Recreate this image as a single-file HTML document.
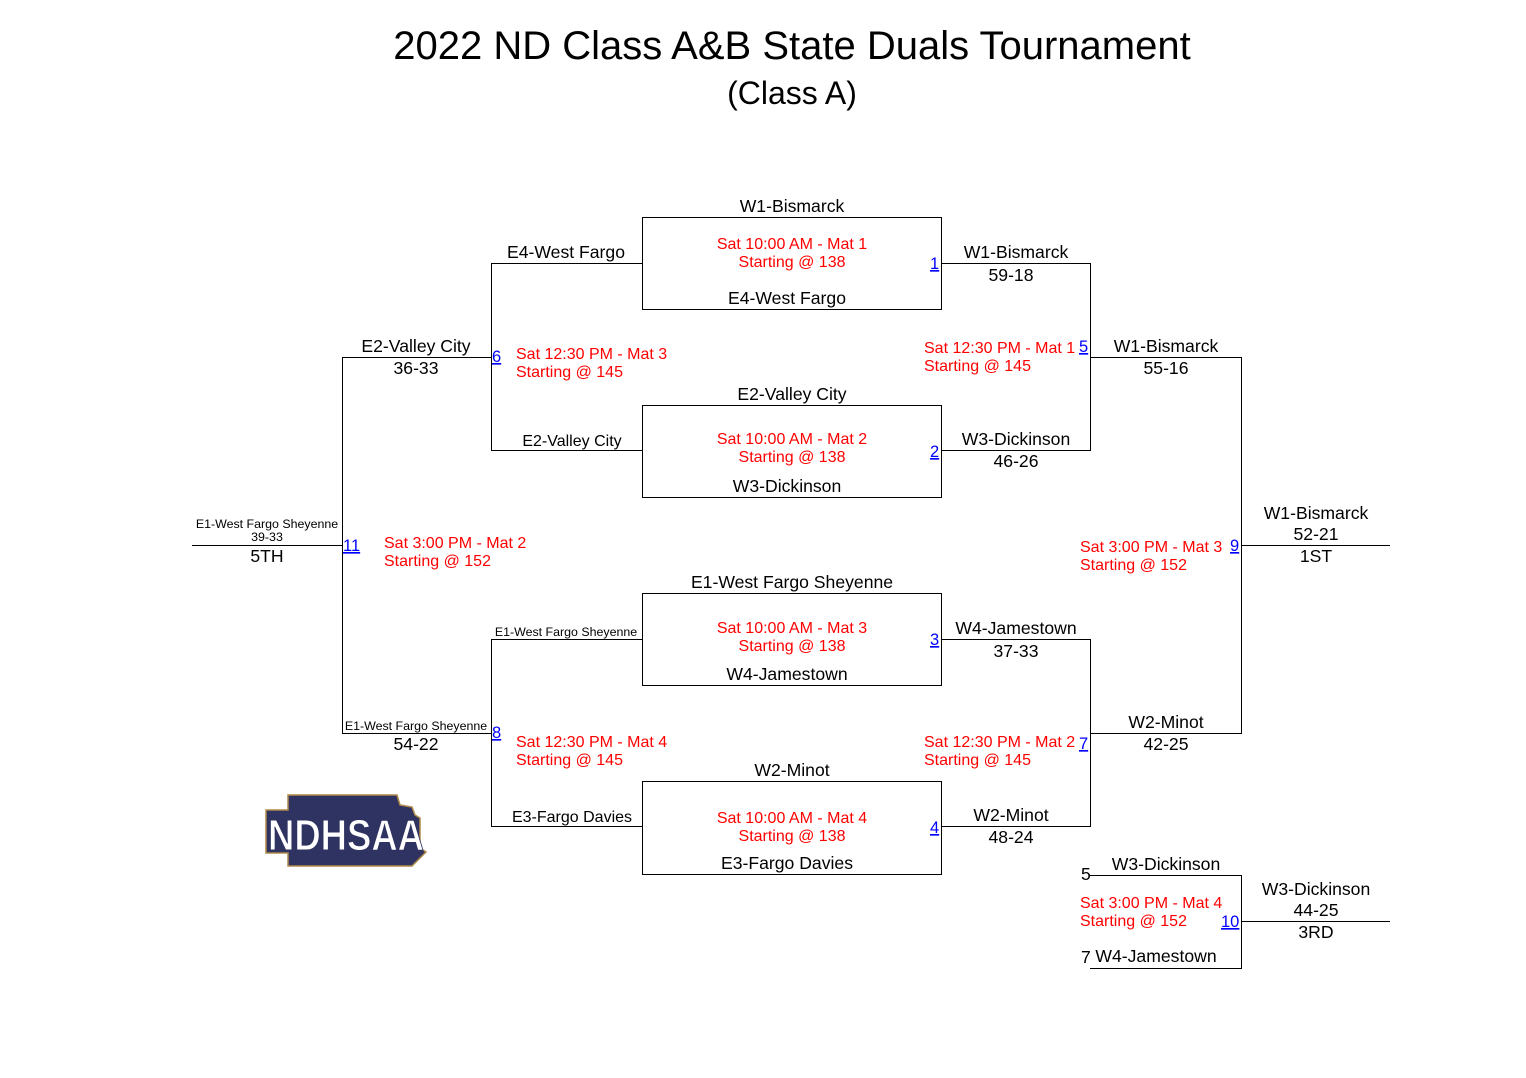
<!DOCTYPE html>
<html><head><meta charset="utf-8"><style>
html,body{margin:0;padding:0;background:#fff;}
svg{display:block;font-family:"Liberation Sans",Arial,sans-serif;}
.b{fill:#000;font-size:17.6px;}
.m{fill:#000;font-size:16px;}
.r{fill:#f00;font-size:16px;}
.s{fill:#000;font-size:12.4px;}
.l{fill:#00f;font-size:16.5px;text-decoration:underline;}
line,rect{stroke:#000;stroke-width:1;fill:none;}
</style></head><body>
<svg width="1526" height="1078" viewBox="0 0 1526 1078">
<text x="792" y="59" text-anchor="middle" style="font-size:40px">2022 ND Class A&amp;B State Duals Tournament</text>
<text x="792" y="104" text-anchor="middle" style="font-size:32px">(Class A)</text>

<rect x="642.5" y="217.5" width="299" height="92"/>
<rect x="642.5" y="405.5" width="299" height="92"/>
<rect x="642.5" y="593.5" width="299" height="92"/>
<rect x="642.5" y="781.5" width="299" height="93"/>

<line x1="491.5" y1="263.5" x2="642" y2="263.5"/><line x1="491.5" y1="450.5" x2="642" y2="450.5"/><line x1="491.5" y1="263" x2="491.5" y2="451"/>
<line x1="491.5" y1="639.5" x2="642" y2="639.5"/><line x1="491.5" y1="826.5" x2="642" y2="826.5"/><line x1="491.5" y1="639" x2="491.5" y2="827"/>
<line x1="342.5" y1="357.5" x2="491" y2="357.5"/><line x1="342.5" y1="733.5" x2="491" y2="733.5"/><line x1="342.5" y1="357" x2="342.5" y2="734"/>
<line x1="192" y1="545.5" x2="342" y2="545.5"/>

<line x1="941" y1="263.5" x2="1090.5" y2="263.5"/><line x1="941" y1="450.5" x2="1090.5" y2="450.5"/><line x1="1090.5" y1="263" x2="1090.5" y2="451"/>
<line x1="941" y1="639.5" x2="1090.5" y2="639.5"/><line x1="941" y1="826.5" x2="1090.5" y2="826.5"/><line x1="1090.5" y1="639" x2="1090.5" y2="827"/>
<line x1="1090" y1="357.5" x2="1241.5" y2="357.5"/><line x1="1090" y1="733.5" x2="1241.5" y2="733.5"/><line x1="1241.5" y1="357" x2="1241.5" y2="734"/>
<line x1="1241" y1="545.5" x2="1390" y2="545.5"/>
<line x1="1090" y1="875.5" x2="1241.5" y2="875.5"/><line x1="1090" y1="968.5" x2="1241.5" y2="968.5"/><line x1="1241.5" y1="875" x2="1241.5" y2="969"/>
<line x1="1241" y1="921.5" x2="1390" y2="921.5"/>

<text class="b" x="792" y="212" text-anchor="middle">W1-Bismarck</text>
<text class="r" x="792" y="249" text-anchor="middle">Sat 10:00 AM - Mat 1</text>
<text class="r" x="792" y="267" text-anchor="middle">Starting @ 138</text>
<text class="b" x="787" y="304" text-anchor="middle">E4-West Fargo</text>

<text class="b" x="792" y="400" text-anchor="middle">E2-Valley City</text>
<text class="r" x="792" y="444" text-anchor="middle">Sat 10:00 AM - Mat 2</text>
<text class="r" x="792" y="462" text-anchor="middle">Starting @ 138</text>
<text class="b" x="787" y="492" text-anchor="middle">W3-Dickinson</text>

<text class="b" x="792" y="588" text-anchor="middle">E1-West Fargo Sheyenne</text>
<text class="r" x="792" y="633" text-anchor="middle">Sat 10:00 AM - Mat 3</text>
<text class="r" x="792" y="651" text-anchor="middle">Starting @ 138</text>
<text class="b" x="787" y="680" text-anchor="middle">W4-Jamestown</text>

<text class="b" x="792" y="776" text-anchor="middle">W2-Minot</text>
<text class="r" x="792" y="823" text-anchor="middle">Sat 10:00 AM - Mat 4</text>
<text class="r" x="792" y="841" text-anchor="middle">Starting @ 138</text>
<text class="b" x="787" y="869" text-anchor="middle">E3-Fargo Davies</text>

<text class="l" x="930" y="269">1</text>
<text class="l" x="930" y="457">2</text>
<text class="l" x="930" y="645">3</text>
<text class="l" x="930" y="833">4</text>
<text class="l" x="1079" y="352">5</text>
<text class="l" x="492" y="362">6</text>
<text class="l" x="1079" y="749">7</text>
<text class="l" x="492" y="738">8</text>
<text class="l" x="1230" y="551">9</text>
<text class="l" x="1221" y="927">10</text>
<text class="l" x="343" y="551">11</text>

<text class="b" x="566" y="258" text-anchor="middle">E4-West Fargo</text>
<text class="m" x="572" y="446" text-anchor="middle">E2-Valley City</text>
<text class="r" x="516" y="359">Sat 12:30 PM - Mat 3</text>
<text class="r" x="516" y="377">Starting @ 145</text>
<text class="s" x="566" y="636" text-anchor="middle">E1-West Fargo Sheyenne</text>
<text class="m" x="572" y="822" text-anchor="middle">E3-Fargo Davies</text>
<text class="r" x="516" y="747">Sat 12:30 PM - Mat 4</text>
<text class="r" x="516" y="765">Starting @ 145</text>
<text class="b" x="416" y="352" text-anchor="middle">E2-Valley City</text>
<text class="b" x="416" y="374" text-anchor="middle">36-33</text>
<text class="s" x="416" y="730" text-anchor="middle">E1-West Fargo Sheyenne</text>
<text class="b" x="416" y="750" text-anchor="middle">54-22</text>
<text class="r" x="384" y="548">Sat 3:00 PM - Mat 2</text>
<text class="r" x="384" y="566">Starting @ 152</text>
<text class="s" x="267" y="528" text-anchor="middle">E1-West Fargo Sheyenne</text>
<text class="s" x="267" y="541" text-anchor="middle">39-33</text>
<text class="b" x="267" y="562" text-anchor="middle">5TH</text>

<text class="b" x="1016" y="258" text-anchor="middle">W1-Bismarck</text>
<text class="b" x="1011" y="281" text-anchor="middle">59-18</text>
<text class="b" x="1016" y="445" text-anchor="middle">W3-Dickinson</text>
<text class="b" x="1016" y="467" text-anchor="middle">46-26</text>
<text class="r" x="924" y="353">Sat 12:30 PM - Mat 1</text>
<text class="r" x="924" y="371">Starting @ 145</text>
<text class="b" x="1016" y="634" text-anchor="middle">W4-Jamestown</text>
<text class="b" x="1016" y="657" text-anchor="middle">37-33</text>
<text class="b" x="1011" y="821" text-anchor="middle">W2-Minot</text>
<text class="b" x="1011" y="843" text-anchor="middle">48-24</text>
<text class="r" x="924" y="747">Sat 12:30 PM - Mat 2</text>
<text class="r" x="924" y="765">Starting @ 145</text>
<text class="b" x="1166" y="352" text-anchor="middle">W1-Bismarck</text>
<text class="b" x="1166" y="374" text-anchor="middle">55-16</text>
<text class="b" x="1166" y="728" text-anchor="middle">W2-Minot</text>
<text class="b" x="1166" y="750" text-anchor="middle">42-25</text>
<text class="r" x="1080" y="552">Sat 3:00 PM - Mat 3</text>
<text class="r" x="1080" y="570">Starting @ 152</text>
<text class="b" x="1316" y="519" text-anchor="middle">W1-Bismarck</text>
<text class="b" x="1316" y="540" text-anchor="middle">52-21</text>
<text class="b" x="1316" y="562" text-anchor="middle">1ST</text>
<text class="b" x="1081" y="880">5</text>
<text class="b" x="1166" y="870" text-anchor="middle">W3-Dickinson</text>
<text class="b" x="1081" y="963">7</text>
<text class="b" x="1156" y="962" text-anchor="middle">W4-Jamestown</text>
<text class="r" x="1080" y="908">Sat 3:00 PM - Mat 4</text>
<text class="r" x="1080" y="926">Starting @ 152</text>
<text class="b" x="1316" y="895" text-anchor="middle">W3-Dickinson</text>
<text class="b" x="1316" y="916" text-anchor="middle">44-25</text>
<text class="b" x="1316" y="938" text-anchor="middle">3RD</text>

<polygon points="288,795 397,795 400,805 412,807 415,815 420,818 420,848 426,852 412,866 288,866 288,853 266,853 266,810 288,810" fill="#2f3361" stroke="#b08a4a" stroke-width="1.5"/>
<text x="346" y="850" text-anchor="middle" style="font-family:'Liberation Sans Narrow','Liberation Sans',sans-serif;font-size:44px;font-weight:bold;fill:#fff;stroke:#2f3361;stroke-width:1" textLength="156" lengthAdjust="spacingAndGlyphs">NDHSAA</text>
</svg>
</body></html>
